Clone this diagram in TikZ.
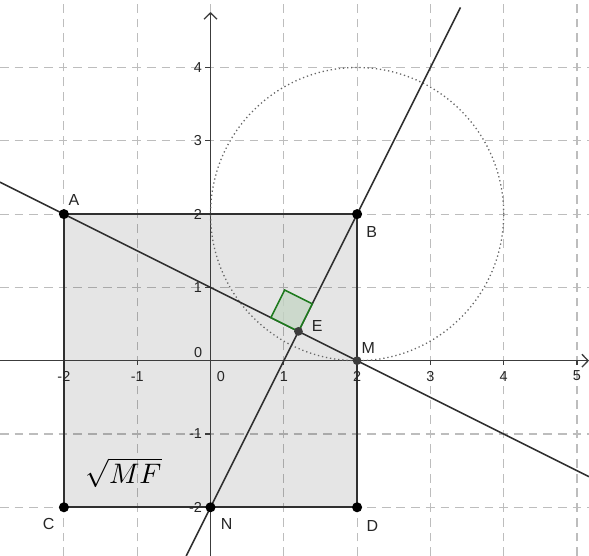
\documentclass[tikz,border=0pt]{standalone}
\usepackage{fontspec}
\setmainfont{Liberation Sans}
\usetikzlibrary{calc,arrows.meta}
\definecolor{gridc}{HTML}{BDBDBD}
\definecolor{axc}{HTML}{3C3C3C}
\definecolor{linec}{HTML}{303030}
\definecolor{angc}{HTML}{1E7A1E}
\definecolor{angf}{HTML}{C6D6C6}
\begin{document}
\begin{tikzpicture}[x=1cm,y=1cm,
  gridline/.style={gridc, line width=0.45pt, dash pattern=on 3.4pt off 2.3pt},
  axisline/.style={axc, line width=0.5pt},
  geoline/.style={linec, line width=0.6pt},
  circdots/.style={black!60, line width=0.5pt, dash pattern=on 0.5pt off 1.1pt},
  pt/.style={circle, fill=black, inner sep=0pt, minimum size=3.9pt},
  ptg/.style={circle, fill=axc, inner sep=0pt, minimum size=3.4pt},
  lbl/.style={font=\fontsize{6.2}{7}\selectfont, text=black!85, inner sep=0pt},
  num/.style={font=\fontsize{5.6}{6}\selectfont, text=black!85, inner sep=0pt},
]
\useasboundingbox[fill=white] (-2.872,-2.664) rectangle (5.164,4.921);
\begin{scope}
\clip (-2.872,-2.664) rectangle (5.164,4.921);
% grid
\foreach \i in {-2,...,5} \draw[gridline] (\i,-2.664) -- (\i,4.921);
\foreach \j in {-2,...,4} \draw[gridline] (-2.872,\j) -- (5.164,\j);
% points
\coordinate (Ac) at (-2,2);
\coordinate (Bc) at (2,2);
\coordinate (Cc) at (-2,-2);
\coordinate (Dc) at (2,-2);
\coordinate (Mc) at (2,0);
\coordinate (Nc) at (0,-2);
\coordinate (Ec) at (1.2,0.4);
% square fill
\fill[black, fill opacity=0.1] (Ac) -- (Bc) -- (Dc) -- (Cc) -- cycle;
% axes
\coordinate (xl) at (-2.872,0);
\coordinate (xr) at (5.164,0);
\coordinate (yb) at (0,-2.664);
\coordinate (yt) at (0,4.757);
\draw[axisline,-{Straight Barb[length=2.4pt,width=5pt]}] (xl) -- (xr);
\draw[axisline,-{Straight Barb[length=2.4pt,width=5pt]}] (yb) -- (yt);
\foreach \i in {-2,...,5} \draw[axisline] (\i,0) -- (\i,-0.06);
\foreach \j in {-2,...,4} \draw[axisline] (0,\j) -- (-0.07,\j);
% circle
\draw[circdots] (Bc) circle (2);
% lines
\coordinate (L1) at (-2.872,2.436);
\coordinate (L2) at (5.164,-1.582);
\coordinate (K1) at (-0.332,-2.664);
\coordinate (K2) at (3.41,4.82);
\draw[geoline] (L1) -- (L2);
\draw[geoline] (K1) -- (K2);
% square border
\draw[geoline, line width=0.7pt] (Ac) -- (Bc) -- (Dc) -- (Cc) -- cycle;
% right angle mark
\coordinate (R1) at ($(Ec)!0.42cm!(Ac)$);
\coordinate (R2) at ($(Ec)!0.42cm!(Bc)$);
\coordinate (R3) at ($(R1)+(R2)-(Ec)$);
\draw[angc, fill=angf, fill opacity=0.8, line width=0.6pt] (Ec) -- (R1) -- (R3) -- (R2) -- cycle;
\end{scope}
% point markers
\node[pt] (A) at (Ac) {};
\node[pt] (B) at (Bc) {};
\node[pt] (C) at (Cc) {};
\node[pt] (D) at (Dc) {};
\node[pt] (N) at (Nc) {};
\node[ptg] (M) at (Mc) {};
\node[ptg] (E) at (Ec) {};
% axis numbers
\foreach \i in {-2,-1,1,2,3,4,5} \node[num] (xn\i) at (\i,-0.21) {\i};
\node[num] (xn0) at (0.14,-0.21) {0};
\foreach \j in {-2,-1,1,2,3,4} \node[num, anchor=east] (yn\j) at (-0.11,\j) {\j};
\node[num] (yn0) at (-0.17,0.11) {0};
% point labels
\node[lbl] (lA) at (-1.862,2.19) {A};
\node[lbl] (lB) at (2.2,1.76) {B};
\node[lbl] (lC) at (-2.21,-2.23) {C};
\node[lbl] (lN) at (0.22,-2.23) {N};
\node[lbl] (lD) at (2.21,-2.25) {D};
\node[lbl] (lE) at (1.457,0.473) {E};
\node[lbl] (lM) at (2.153,0.177) {M};
% formula
\node[inner sep=0pt, font=\fontsize{10.8}{12}\selectfont] (f) at (-1.187,-1.525) {$\sqrt{MF}$};
\end{tikzpicture}
\end{document}
